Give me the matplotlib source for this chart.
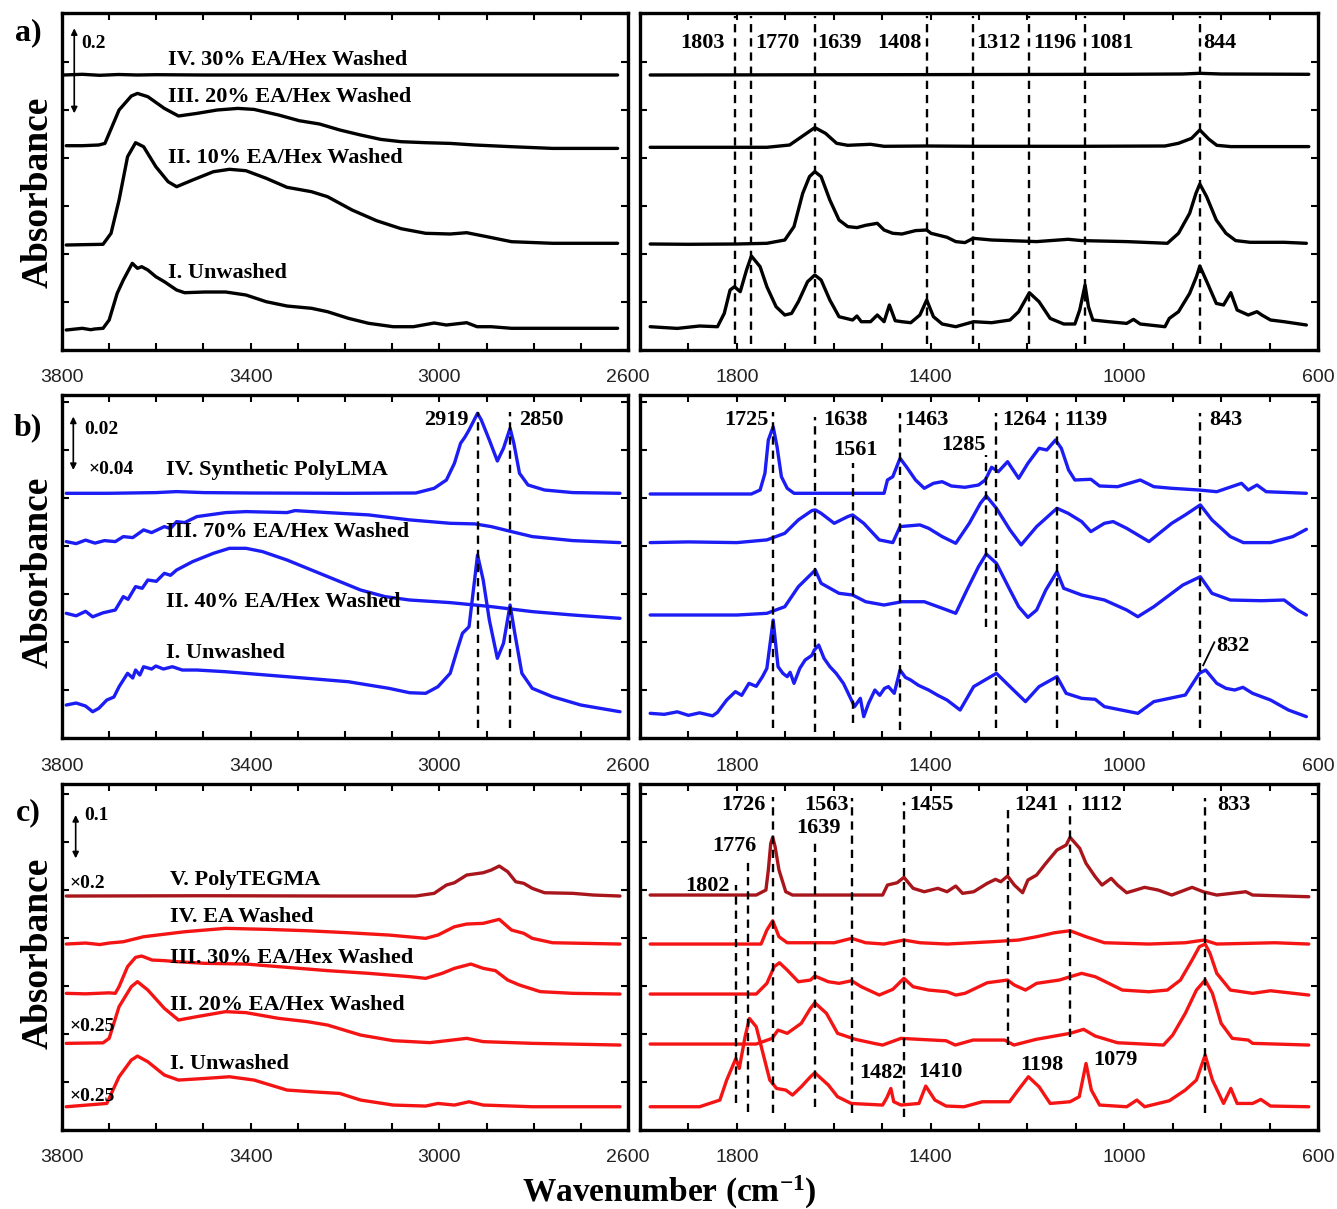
import matplotlib
matplotlib.use("Agg")
import matplotlib.pyplot as plt
from matplotlib.ticker import MultipleLocator, FixedLocator
import numpy as np

# ======================= DATA (wavenumber, relative absorbance) =======================
# ---- (a) left: 3800-2600 cm-1 ----
A_L_I = [(3791,0),(3757,1.7),(3739,0.3),(3731,1.0),(3713,1.7),(3700,10),(3683,36.7),(3670,50),(3651,66.7),(3640,61.7),(3631,63.3),(3618,60),(3601,53.3),(3583,48.3),(3557,40),(3540,37.3),(3497,38),(3453,38),(3410,35),(3367,28.3),(3323,24),(3271,21.7),(3237,18.3),(3193,11.7),(3150,6.7),(3098,3.3),(3055,3.3),(3011,7),(2985,5),(2942,7.3),(2920,3.3),(2890,3.3),(2847,1.7),(2760,1.7),(2622,1.7)]
A_L_II = [(3791,0),(3713,0.7),(3696,11.7),(3679,45),(3661,88.3),(3644,102.3),(3627,98.3),(3601,78.3),(3575,63.3),(3557,58.3),(3523,65),(3479,73.3),(3445,75.7),(3410,74.3),(3367,66.7),(3323,57.7),(3271,53.3),(3237,48.3),(3185,35),(3133,24.3),(3081,16.3),(3029,11.7),(2977,11),(2942,12.3),(2899,8.3),(2847,3.3),(2760,1.7),(2622,1.7)]
A_L_III = [(3791,0),(3757,0),(3722,0.7),(3709,2.3),(3679,35.7),(3653,49.7),(3640,52.3),(3618,49),(3583,37.3),(3553,29.7),(3514,32.3),(3471,35.7),(3427,37.3),(3393,36.3),(3341,30.7),(3297,25),(3254,21.7),(3211,15.7),(3167,10.7),(3124,6.3),(3081,4),(3029,3),(2977,2.3),(2925,0.7),(2847,-1),(2760,-2.7),(2622,-2.7)]
A_L_IV = [(3796,0),(3757,0.7),(3720,-0.3),(3680,0.5),(3640,0),(3600,0.3),(3500,0),(2622,0)]
A_L_OFFSETS = [20, 105, 204.3, 275]
A_L_NAMES = ["I. Unwashed", "II. 10% EA/Hex Washed", "III. 20% EA/Hex Washed", "IV. 30% EA/Hex Washed"]

# ---- (a) right: 2000-600 cm-1 ----
A_R_I = [(1979,0),(1923,-1.7),(1877,0.7),(1840,0),(1826,13.3),(1814,36.7),(1805,40),(1793,35),(1780,56.7),(1770,70.7),(1752,60),(1738,40),(1719,20),(1701,11.7),(1687,13.3),(1673,25),(1654,45),(1639,51.7),(1626,46.7),(1608,26.7),(1589,10),(1561,6.7),(1552,10.7),(1543,5),(1524,5),(1510,11.7),(1496,5),(1485,21.7),(1473,6),(1459,5),(1441,4),(1422,11.7),(1408,26.7),(1394,10),(1376,2.7),(1348,0),(1311,5),(1274,4),(1236,6.7),(1218,15),(1196,34),(1176,25),(1153,8.3),(1125,2.7),(1102,2.7),(1092,16.7),(1081,41.7),(1074,20),(1065,6.7),(1032,5),(995,3.3),(981,7.3),(967,2.7),(916,0),(907,8.3),(888,15),(865,33.3),(851,50),(844,60.7),(828,43.3),(810,23.3),(795,21.7),(780,34),(767,16.7),(744,11.7),(726,15),(716,11.7),(698,6.7),(670,5),(624,1.7)]
A_R_II = [(1979,-0.7),(1900,-1),(1800,-0.7),(1738,0),(1701,3.3),(1682,16.7),(1664,50),(1650,66.7),(1639,71.7),(1626,66.7),(1608,43.3),(1589,23.3),(1571,16.7),(1552,15.7),(1534,18),(1510,20),(1496,13.3),(1478,10),(1459,9.3),(1431,12.7),(1408,13.3),(1399,10),(1366,6),(1348,1.7),(1329,0.7),(1312,5),(1274,3.3),(1181,1.7),(1116,4),(1088,2.7),(995,1.7),(911,0),(888,10),(865,30),(852,50),(844,59.3),(830,46.7),(810,23.3),(790,10),(770,2.7),(740,1),(670,1),(624,0)]
A_R_III = [(1979,0),(1738,0),(1691,2.3),(1668,10),(1639,19.7),(1617,14),(1594,4),(1571,2),(1524,3),(1496,1),(1408,1.3),(1311,1),(1083,1),(916,1.3),(888,4),(861,9),(844,17.3),(825,8),(809,2),(780,0.7),(619,0.7)]
A_R_IV = [(1979,0),(1500,0.3),(1000,0.7),(880,1),(844,1.7),(800,1),(619,0.7)]
A_R_OFFSETS = [23.3, 106.7, 202.7, 275]
A_R_PEAKS = [1803, 1770, 1639, 1408, 1312, 1196, 1081, 844]

# ---- (b) left ----
B_L_I = [(3791,0),(3770,2),(3750,-1),(3735,-6.7),(3722,-3.3),(3705,5),(3690,8),(3679,18.3),(3661,31.7),(3650,27),(3644,35),(3635,30),(3627,38.3),(3610,36),(3601,39),(3585,36),(3566,38.3),(3545,35),(3514,35),(3453,33.3),(3367,30),(3280,26.7),(3193,23.3),(3107,16.7),(3063,12.3),(3029,11.7),(3003,18.3),(2977,31.7),(2960,58.3),(2951,71.7),(2937,78.3),(2919,150),(2907,125),(2894,85),(2877,46.7),(2864,61.7),(2850,100),(2840,71.7),(2825,31.7),(2803,16.7),(2760,8.3),(2700,0),(2617,-6.7)]
B_L_II = [(3791,0),(3770,-2.5),(3750,2),(3735,-3.5),(3713,0.5),(3687,3.3),(3670,16.7),(3660,14),(3644,26.7),(3630,25),(3618,33.3),(3600,32),(3583,40),(3570,38),(3557,43.3),(3523,51.7),(3479,60),(3445,65),(3410,65),(3375,61.7),(3323,53.3),(3271,43.3),(3219,33.3),(3167,23.3),(3115,16.7),(3063,13.3),(2977,10.7),(2890,6.7),(2803,1.7),(2717,-1.7),(2617,-5)]
B_L_III = [(3791,0),(3770,-2),(3750,1.5),(3730,-1.5),(3710,1),(3687,0),(3670,5),(3650,4),(3627,11.7),(3610,9),(3583,15),(3570,13),(3557,20),(3540,19),(3514,25),(3453,29),(3410,30),(3323,29),(3306,31),(3237,29),(3150,26.7),(3063,21.7),(2977,18.3),(2925,17.7),(2890,15),(2847,10),(2803,5),(2717,1),(2617,-1)]
B_L_IV = [(3791,0),(3700,0),(3600,0.7),(3557,1.7),(3500,0.7),(3400,0.3),(3200,0),(3050,0.3),(3011,5),(2985,13.3),(2968,30),(2955,50),(2946,56),(2937,63.3),(2919,80),(2911,73.3),(2894,53.3),(2877,32.3),(2864,45),(2850,65),(2842,50),(2830,20),(2812,8.3),(2777,3.3),(2717,0.7),(2617,0)]
B_L_OFFSETS = [33.3, 125, 196.7, 245]
B_L_NAMES = ["I. Unwashed", "II. 40% EA/Hex Washed", "III. 70% EA/Hex Washed", "IV. Synthetic PolyLMA"]
B_L_PEAKS = [2919, 2850]

# ---- (b) right ----
B_R_I = [(1979,0),(1950,-1),(1923,1.5),(1900,-2),(1877,0.5),(1850,-2.5),(1840,1),(1821,13.3),(1803,21.7),(1790,18),(1775,30),(1760,27),(1747,36.7),(1738,45),(1725,93.3),(1715,46.7),(1705,40),(1696,36.7),(1690,41),(1682,30),(1670,45),(1659,53.3),(1645,58),(1640,63.3),(1631,68.3),(1620,55),(1608,46.7),(1595,40),(1580,30),(1570,20),(1557,6.7),(1545,15),(1538,-3.3),(1528,10),(1515,23.3),(1505,18),(1495,25),(1487,26.7),(1475,20),(1463,43.3),(1452,36),(1441,33.3),(1425,28),(1404,23.3),(1385,18),(1366,13.3),(1339,3.3),(1311,26.7),(1264,40),(1236,26.7),(1204,11.7),(1176,26.7),(1139,36.7),(1120,20),(1088,15),(1060,14),(1041,6.7),(972,0),(939,11.7),(874,18.3),(845,40),(832,43.3),(809,30),(790,25),(772,23.3),(755,26),(735,20),(698,13.3),(661,3.3),(624,-3.3)]
B_R_II = [(1979,0),(1800,0),(1738,1.7),(1701,8.3),(1673,28.3),(1638,45),(1626,31.7),(1589,21.7),(1561,20),(1534,13.3),(1496,10),(1459,13.3),(1413,13.3),(1366,5),(1348,1.7),(1325,25),(1301,48.3),(1285,61),(1264,51.7),(1236,25),(1218,8.3),(1199,-2.3),(1181,5),(1162,25),(1139,43.3),(1125,26.7),(1088,20),(1041,15),(995,5),(972,-1.7),(939,8.3),(902,21.7),(879,30),(843,38.3),(819,21.7),(781,15),(717,14.3),(670,15),(642,5),(624,0)]
B_R_III = [(1979,0),(1900,0.7),(1800,0),(1738,2.7),(1701,9.3),(1673,22.7),(1645,32),(1638,32.7),(1626,29.3),(1599,19.3),(1571,26),(1561,27.7),(1538,19.3),(1506,2.7),(1478,0),(1463,16),(1422,17.7),(1404,14.3),(1376,6),(1348,-0.7),(1320,19.3),(1297,39.3),(1285,46.7),(1264,34.3),(1236,12.7),(1213,-2.3),(1181,16),(1139,34.3),(1116,29.3),(1088,21),(1069,11),(1041,19.3),(1023,21),(995,14.3),(949,1),(902,19.3),(874,27.7),(843,37.7),(819,22.7),(781,6),(754,0),(698,0),(652,6),(624,13.3)]
B_R_IV = [(1979,0),(1770,0),(1752,4),(1742,20.7),(1735,54),(1725,67.3),(1717,47.3),(1708,17.3),(1696,5.7),(1682,0.7),(1496,0.7),(1489,14),(1478,17.3),(1463,35.7),(1450,27.3),(1431,14),(1413,5.7),(1394,10.7),(1376,12.3),(1357,8),(1329,6.7),(1301,9),(1287,14),(1274,26.7),(1260,22.3),(1241,32.3),(1218,15.7),(1199,30.7),(1176,45.7),(1160,44),(1142,54),(1130,45.7),(1115,24),(1102,14),(1069,14.7),(1051,8),(1014,7.3),(967,14),(939,7.3),(902,5.7),(846,4),(809,2.3),(758,10.7),(744,4),(726,9),(707,2.3),(624,0.7)]
B_R_OFFSETS = [25, 123.3, 195.7, 244.3]
B_R_PEAKS = [1725, 1638, 1561, 1463, 1285, 1264, 1139, 843]

# ---- (c) left ----
C_L_I = [(3791,0),(3705,3.3),(3679,30),(3653,46.7),(3640,50.7),(3618,45),(3583,31.7),(3553,26.7),(3497,28.3),(3445,30),(3393,26.7),(3323,16.7),(3271,15),(3211,13.3),(3167,6.7),(3098,1.7),(3029,0.7),(3003,3.3),(2968,1.7),(2937,5),(2907,1.7),(2803,0),(2617,0)]
C_L_II = [(3791,0),(3713,0.5),(3700,5),(3679,36.7),(3653,56.7),(3640,61.7),(3618,53.3),(3583,35),(3553,23.3),(3514,26.7),(3453,31.7),(3410,30.7),(3341,25),(3280,21.7),(3237,18.3),(3167,8.3),(3098,2.7),(3020,0.7),(2942,5),(2907,1.7),(2803,0),(2617,-1.7)]
C_L_III = [(3791,0),(3750,-0.5),(3700,0.5),(3687,0),(3679,6.7),(3661,26.7),(3644,36),(3631,37.3),(3609,33.3),(3583,32.7),(3557,31.7),(3497,30),(3410,29.3),(3323,26),(3237,22.7),(3150,20),(3063,16.7),(3029,15),(2994,20),(2968,25),(2933,29.3),(2907,25),(2881,22.7),(2855,13.3),(2830,8.3),(2786,1.7),(2717,0),(2617,-0.7)]
C_L_IV = [(3791,0),(3750,1),(3720,-0.5),(3700,1),(3670,2.3),(3627,7.3),(3540,12.3),(3453,15.7),(3367,14.7),(3280,13.3),(3193,11.3),(3107,9),(3029,5.7),(3003,9),(2968,17.3),(2942,20),(2907,20.7),(2873,24.7),(2847,14),(2821,10.7),(2803,5.7),(2760,1.3),(2617,0)]
C_L_V = [(3791,0),(3500,0.3),(3200,0),(3050,0),(3011,2.7),(2985,11),(2968,13.3),(2942,21),(2907,23.3),(2890,26),(2873,30),(2855,24.3),(2838,14.3),(2821,12.7),(2803,7.7),(2777,3.3),(2717,2.7),(2673,1),(2617,0)]
C_L_OFFSETS = [23.3, 86.7, 136.7, 186, 234]
C_L_NAMES = ["I. Unwashed", "II. 20% EA/Hex Washed", "III. 30% EA/Hex Washed", "IV. EA Washed", "V. PolyTEGMA"]

# ---- (c) right ----
C_R_I = [(1979,0),(1877,0),(1835,6.7),(1821,26.7),(1802,48.3),(1795,38.3),(1783,70),(1774,88.3),(1760,80),(1746,53.3),(1732,26.7),(1718,18.3),(1699,16.7),(1685,11.7),(1667,20),(1648,30),(1639,34),(1611,21.7),(1592,10),(1564,3.3),(1499,1.7),(1490,9.3),(1482,18.3),(1476,5),(1461,1.7),(1424,3.3),(1410,20.7),(1391,6.7),(1368,0.7),(1331,0),(1293,5),(1237,5),(1219,16.7),(1198,30),(1176,20),(1153,3.3),(1112,5),(1093,10),(1079,43.3),(1068,16.7),(1051,1.7),(995,0),(974,6.7),(958,0),(907,6),(874,16.7),(851,26.7),(833,51.7),(818,26.7),(795,3.3),(780,18.3),(767,3.3),(735,3.3),(718,7.3),(698,0.7),(619,0)]
C_R_II = [(1979,0),(1760,0),(1727,5.7),(1715,14),(1696,10.7),(1667,20.7),(1648,35.7),(1639,41.3),(1615,30.7),(1592,10.7),(1555,4.7),(1517,0.7),(1499,-1),(1461,5.7),(1424,4.7),(1368,3.3),(1349,-1),(1312,4),(1247,4),(1228,-1),(1182,4.7),(1112,10.7),(1084,14.7),(1060,8),(1014,1.3),(919,-1),(900,9),(874,30.7),(851,54),(833,64),(818,50.7),(800,20.7),(777,5.7),(744,4),(735,0.7),(619,-1)]
C_R_III = [(1979,0),(1760,0),(1738,10.7),(1723,27.3),(1712,31.3),(1696,24),(1673,12.3),(1648,14),(1639,18),(1611,12.3),(1589,10.7),(1563,13.3),(1543,7.3),(1506,-1),(1478,4.7),(1455,15.7),(1436,7.3),(1404,4),(1366,2.3),(1348,-1),(1329,0.7),(1283,11.3),(1241,14),(1227,9),(1204,4),(1181,10.7),(1134,14),(1112,17.3),(1088,20.7),(1060,17.3),(1032,10.7),(1004,4),(949,2.3),(911,4),(884,14),(860,34),(845,47.3),(833,50),(823,40.7),(809,20.7),(781,4),(735,0.7),(698,3.3),(619,-1)]
C_R_IV = [(1979,0),(1750,0),(1738,14),(1726,23.3),(1713,7.3),(1696,1.3),(1599,1.3),(1563,5.7),(1534,1.3),(1496,0),(1455,4),(1422,1.3),(1366,0),(1274,2.3),(1218,4),(1181,7.3),(1144,11.3),(1112,13.3),(1079,7.3),(1041,1.3),(949,0),(874,1.3),(835,4),(809,0),(689,1.3),(619,0)]
C_R_V = [(1979,0),(1760,0),(1740,5),(1735,25),(1730,51.7),(1726,57.7),(1721,48.3),(1713,25),(1699,3.3),(1685,0),(1499,0),(1489,10),(1469,12.3),(1455,17.7),(1436,6.7),(1413,3.3),(1385,6.7),(1366,3.3),(1348,9),(1334,1.7),(1311,3.3),(1283,11.7),(1266,15.7),(1255,13.3),(1241,19),(1227,10),(1210,2.3),(1199,15),(1181,20),(1162,31.7),(1139,45),(1120,50),(1112,57.7),(1092,46.7),(1079,31.7),(1060,18.3),(1046,10),(1027,16.7),(1014,10),(995,2.3),(958,7.7),(930,5),(902,0),(860,7.7),(837,3.3),(809,0),(749,3.3),(735,0),(619,-1.7)]
C_R_OFFSETS = [23.3, 86, 136, 186, 235]
C_R_PEAKS = [1802, 1776, 1726, 1639, 1563, 1455, 1241, 1112, 833]
C_R_EXTRA = [1482, 1410, 1198, 1079]

LEFT_TICKS = [3800, 3400, 3000, 2600]
RIGHT_TICKS = [1800, 1400, 1000, 600]

# ======================= STYLE / LAYOUT =======================
BLACK = "#000000"
BLUE = "#1c1cf5"
RED = "#f51414"
DARKRED = "#a8161c"
SERIF = "Liberation Serif"
plt.rcParams["font.family"] = ["Liberation Sans", "DejaVu Sans"]
plt.rcParams["mathtext.default"] = "regular"

fig = plt.figure(figsize=(13.37, 12.09), dpi=100)

LEFT_X = (0.04637, 0.42334)
RIGHT_X = (0.47868, 0.50710)
ROWS = {"a": (0.7105, 0.2785, 336.7), "b": (0.3893, 0.2840, 343.3), "c": (0.0653, 0.2862, 346.0)}


def make_ax(xr, row, xlim, majors):
    b, h, ytop = ROWS[row]
    ax = fig.add_axes([xr[0], b, xr[1], h])
    ax.set_xlim(*xlim)
    ax.set_ylim(0, ytop)
    ax.xaxis.set_major_locator(FixedLocator(majors))
    ax.xaxis.set_minor_locator(MultipleLocator(100))
    ax.yaxis.set_major_locator(MultipleLocator(48))
    ax.tick_params(which="both", direction="in", top=True, right=True, left=True, bottom=True,
                   length=5, width=1.5, labelleft=False, labelsize=14, pad=14, labelcolor="#222222")
    for s in ax.spines.values():
        s.set_linewidth(2.4)
    return ax


def draw(ax, traces, offsets, colors):
    for tr, off, c in zip(traces, offsets, colors):
        arr = np.array(tr, dtype=float)
        ax.plot(arr[:, 0], arr[:, 1] + off, color=c, lw=2.4,
                solid_joinstyle="round", solid_capstyle="round")


def txt(ax, x, y, s, ha="left", size=16, va="center"):
    ax.text(x, y, s, fontfamily=SERIF, fontweight="bold", fontsize=size, ha=ha, va=va, color="black")


def vline(ax, x, y0, y1):
    ax.plot([x, x], [y0, y1], color="black", lw=1.7, ls=(0, (3.5, 2.5)))


def scalebar(ax, x, y0, y1):
    ax.annotate("", xy=(x, y1), xytext=(x, y0),
                arrowprops=dict(arrowstyle="<|-|>", lw=1.2, color="black", mutation_scale=9,
                                shrinkA=0, shrinkB=0))


# ---------------- row a ----------------
axL = make_ax(LEFT_X, "a", (3800, 2600), LEFT_TICKS)
draw(axL, [A_L_I, A_L_II, A_L_III, A_L_IV], A_L_OFFSETS, [BLACK] * 4)
for name, y in zip(A_L_NAMES, [76.7, 191.7, 253.3, 290]):
    txt(axL, 3575, y, name)
scalebar(axL, 3774, 236.7, 321.7)
txt(axL, 3760, 306, "0.2", size=14)

axR = make_ax(RIGHT_X, "a", (2000, 600), RIGHT_TICKS)
draw(axR, [A_R_I, A_R_II, A_R_III, A_R_IV], A_R_OFFSETS, [BLACK] * 4)
a_sides = ["right", "left", "left", "right", "left", "left", "left", "left"]
a_gap = [21, 7, 6, 11, 7, 9, 9, 7]
for p, side, g in zip(A_R_PEAKS, a_sides, a_gap):
    vline(axR, p, 6, 334)
    txt(axR, p + g if side == "right" else p - g, 306.7, str(p), ha=side)

# ---------------- row b ----------------
bxL = make_ax(LEFT_X, "b", (3800, 2600), LEFT_TICKS)
draw(bxL, [B_L_I, B_L_II, B_L_III, B_L_IV], B_L_OFFSETS, [BLUE] * 4)
for name, y in zip(B_L_NAMES, [85, 136.7, 206.7, 268.3]):
    txt(bxL, 3579, y, name)
for p, side in zip(B_L_PEAKS, ["right", "left"]):
    vline(bxL, p, 10, 326)
    txt(bxL, p + 19 if side == "right" else p - 19, 318.3, str(p), ha=side)
scalebar(bxL, 3776, 268.3, 321.7)
txt(bxL, 3752, 308.3, "0.02", size=14)
txt(bxL, 3744, 268.3, "\u00d70.04", size=14)

bxR = make_ax(RIGHT_X, "b", (2000, 600), RIGHT_TICKS)
draw(bxR, [B_R_I, B_R_II, B_R_III, B_R_IV], B_R_OFFSETS, [BLUE] * 4)
b_spans = [(10, 326.7), (6.7, 321.7), (15, 275), (8.3, 325), (111.7, 283.3), (10, 325), (10, 325), (10, 325)]
for p, (y0, y1) in zip(B_R_PEAKS, b_spans):
    vline(bxR, p, y0, y1)
txt(bxR, 1725 + 9, 318.3, "1725", ha="right")
txt(bxR, 1638 - 17, 318.3, "1638", ha="left")
txt(bxR, 1555, 288.3, "1561", ha="center")
txt(bxR, 1463 - 9, 318.3, "1463", ha="left")
txt(bxR, 1285 + 2, 293.3, "1285", ha="right")
txt(bxR, 1264 - 11, 318.3, "1264", ha="left")
txt(bxR, 1139 - 16, 318.3, "1139", ha="left")
txt(bxR, 843 - 19, 318.3, "843", ha="left")
bxR.plot([837, 814], [73, 96], color="black", lw=1.3)
txt(bxR, 810, 92, "832", ha="left")

# ---------------- row c ----------------
cxL = make_ax(LEFT_X, "c", (3800, 2600), LEFT_TICKS)
draw(cxL, [C_L_I, C_L_II, C_L_III, C_L_IV, C_L_V], C_L_OFFSETS, [RED] * 4 + [DARKRED])
for name, y in zip(C_L_NAMES, [66, 125, 171.7, 212.7, 250]):
    txt(cxL, 3570, y, name)
scalebar(cxL, 3771, 271.7, 315)
txt(cxL, 3752, 315, "0.1", size=14)
txt(cxL, 3784, 246.7, "\u00d70.2", size=14)
txt(cxL, 3784, 103.3, "\u00d70.25", size=14)
txt(cxL, 3784, 33.3, "\u00d70.25", size=14)

cxR = make_ax(RIGHT_X, "c", (2000, 600), RIGHT_TICKS)
draw(cxR, [C_R_I, C_R_II, C_R_III, C_R_IV, C_R_V], C_R_OFFSETS, [RED] * 4 + [DARKRED])
c_spans = [(26.7, 245), (18.3, 273.3), (16.7, 333.3), (23.3, 286.7), (16.7, 331.7),
           (13.3, 328.3), (85, 325), (93.3, 325), (16.7, 331.7)]
for p, (y0, y1) in zip(C_R_PEAKS, c_spans):
    vline(cxR, p, y0, y1)
txt(cxR, 1726 + 14, 325, "1726", ha="right")
txt(cxR, 1563 + 6, 325, "1563", ha="right")
txt(cxR, 1455 - 11, 325, "1455", ha="left")
txt(cxR, 1241 - 14, 325, "1241", ha="left")
txt(cxR, 1112 - 21, 325, "1112", ha="left")
txt(cxR, 833 - 26, 325, "833", ha="left")
txt(cxR, 1805, 284, "1776", ha="center")
txt(cxR, 1631, 301.7, "1639", ha="center")
txt(cxR, 1814, 244, "1802", ha="right")
for p, x, y in zip(C_R_EXTRA, [1501, 1380, 1170, 1019], [56.7, 58.3, 65, 70]):
    txt(cxR, x, y, str(p), ha="center")

# ---------------- figure texts ----------------
for lab, y in zip(["a)", "b)", "c)"], [0.9727, 0.646, 0.3275]):
    fig.text(0.021, y, lab, fontfamily=SERIF, fontweight="bold", fontsize=23, ha="center", va="center")
for y in [0.841, 0.527, 0.2117]:
    fig.text(0.0284, y, "Absorbance", fontfamily=SERIF, fontweight="bold", fontsize=27,
             rotation=90, ha="center", va="center")
fig.text(0.5004, 0.0062, "Wavenumber (cm$^{-1}$)", fontfamily=SERIF, fontweight="bold",
         fontsize=24, ha="center", va="baseline")

fig.savefig("out.png", dpi=100)
